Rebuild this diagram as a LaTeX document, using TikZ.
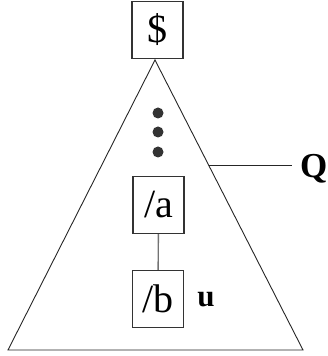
\documentclass[tikz,border=0pt]{standalone}
\usepackage{fontspec}
\setmainfont{Liberation Serif}
\usetikzlibrary{calc}
\begin{document}
\begin{tikzpicture}[x=1pt,y=1pt,
  box/.style={draw=black!80,line width=1.2pt,inner sep=0pt,minimum width=51pt,minimum height=57pt,font=\fontsize{40}{40}\selectfont},
  tri/.style={draw=black!85,line width=0.9pt},
  dotmark/.style={circle,fill=black!80,inner sep=0pt,minimum size=11pt},
  link/.style={draw=black!55,line width=1.4pt}]
\useasboundingbox (0,0) rectangle (327,356);
\coordinate (apex) at (155,296);
\coordinate (bl) at (8,6);
\coordinate (br) at (303,6);
\draw[tri] (apex) -- (bl) -- (br) -- cycle;
\node[box] (root) at (157.5,326) {\$};
\node[box] (a) at (158.5,151) {/a};
\node[box] (b) at (158,57) {/b};
\draw[link] (a) -- (b);
\node[dotmark] (d1) at (158,243) {};
\node[dotmark] (d2) at (158,224) {};
\node[dotmark] (d3) at (158,204) {};
\node[font=\fontsize{31}{31}\selectfont\bfseries,inner sep=0pt] (u) at (206,56) {u};
\coordinate (qs) at ($(apex)!0.362!(br)$);
\node[font=\fontsize{35}{35}\selectfont\bfseries,inner sep=0pt,anchor=west] (q) at (300,187) {Q};
\draw[tri] (qs) -- (qs -| 292,0);
\end{tikzpicture}
\end{document}
